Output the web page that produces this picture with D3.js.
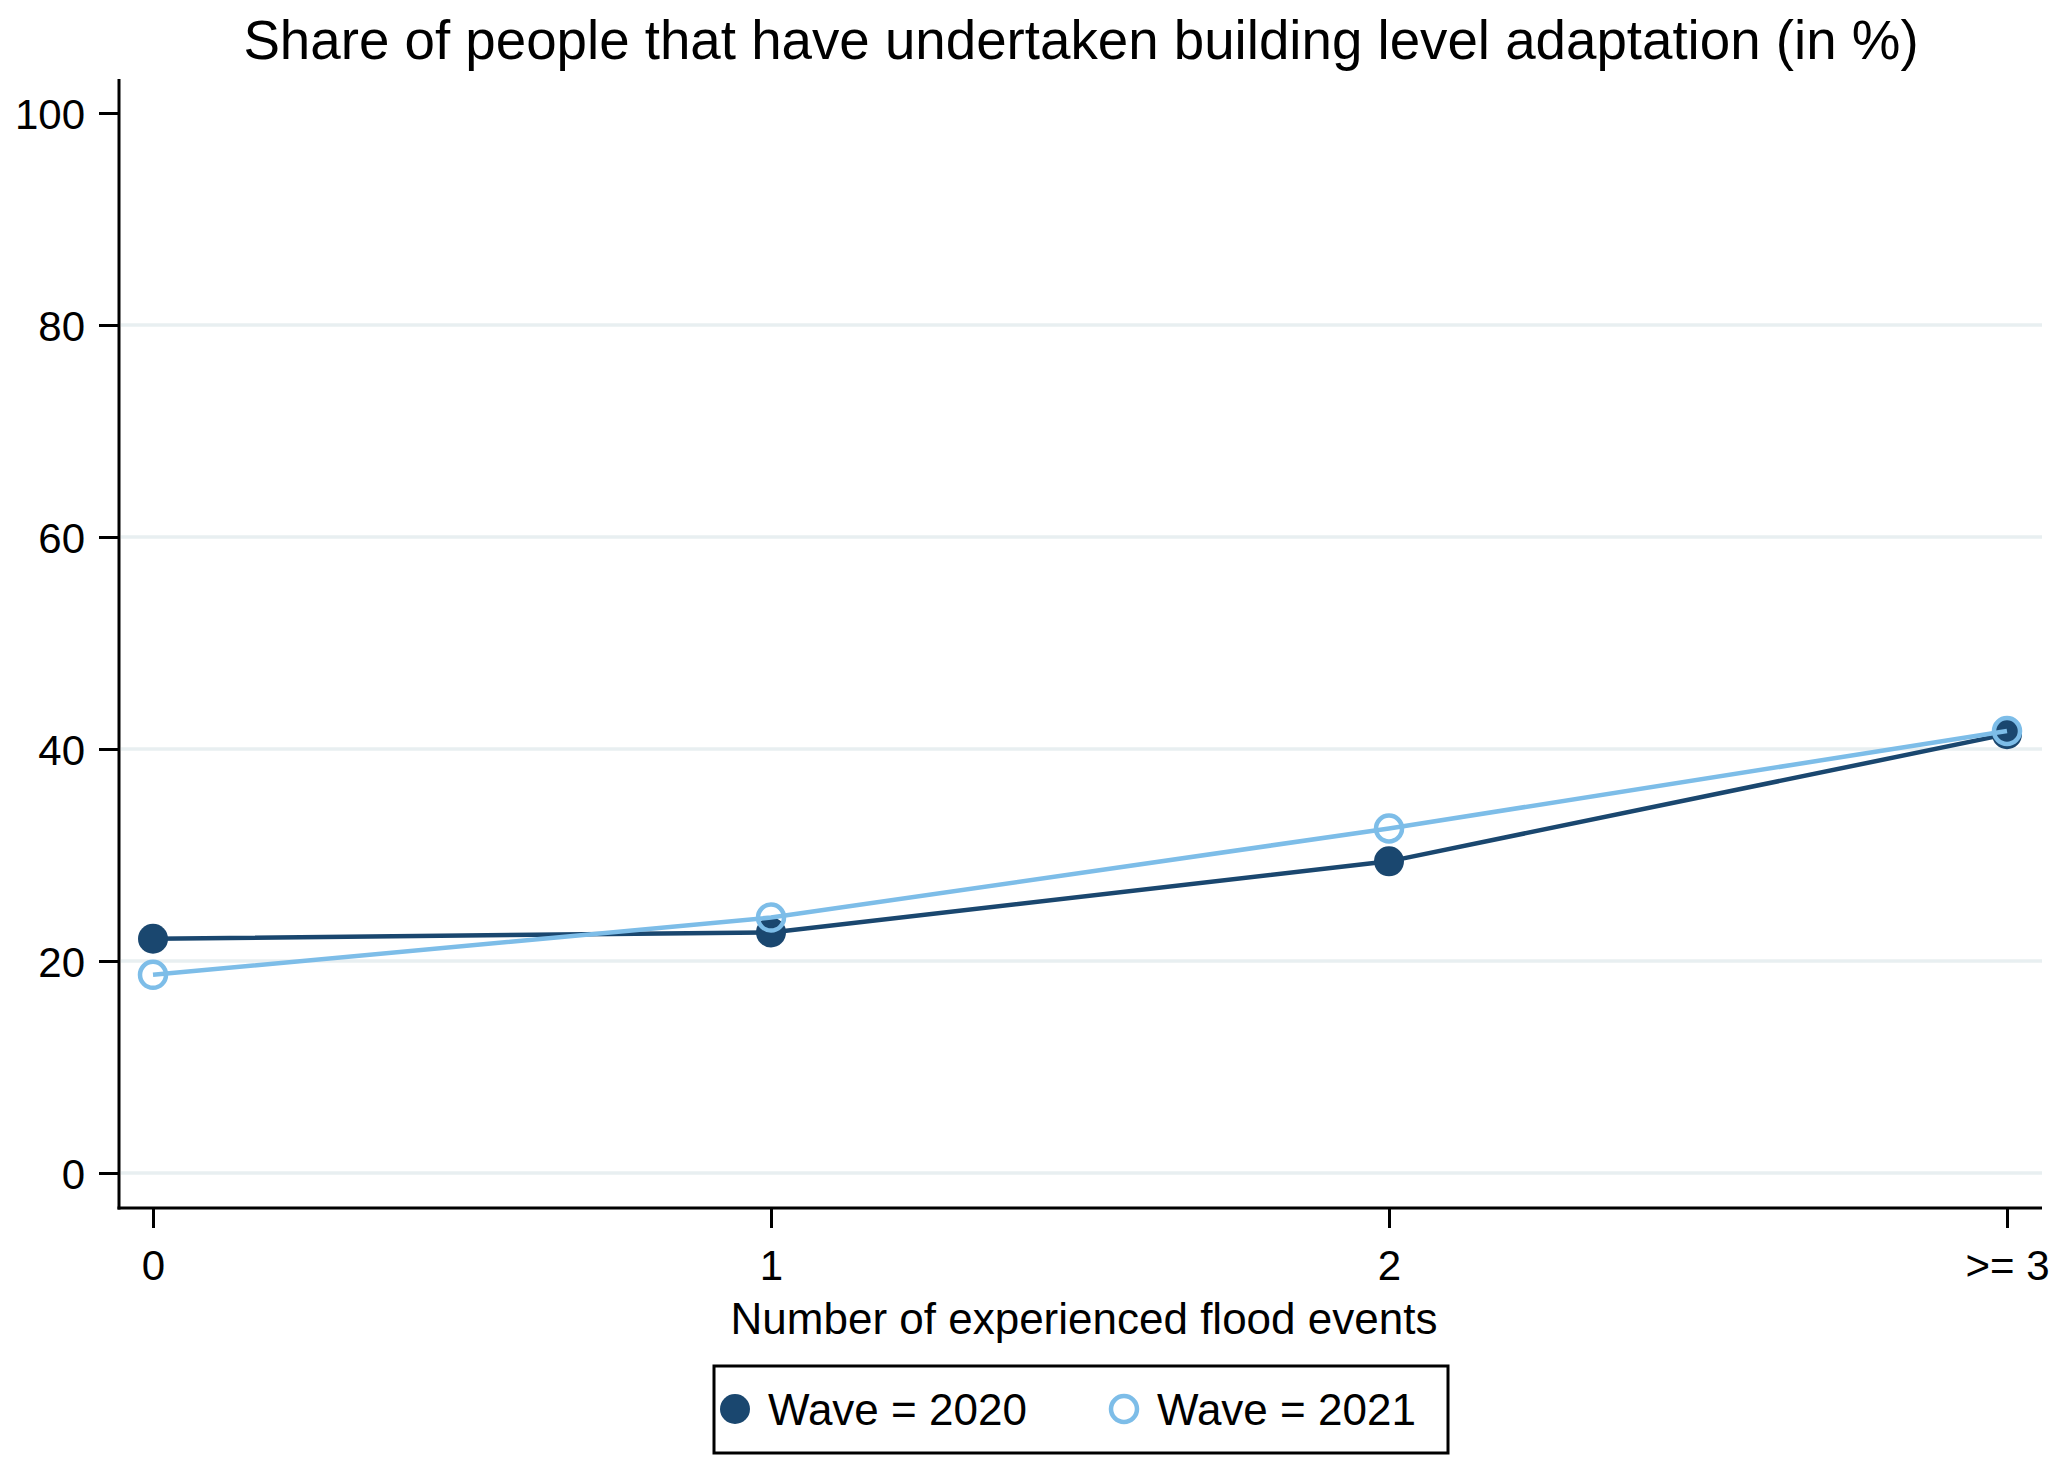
<!DOCTYPE html>
<html>
<head>
<meta charset="utf-8">
<script src="https://cdn.jsdelivr.net/npm/d3@7"></script>
<style>
    body { margin: 0; background: #fff; }
    text { font-family: "Liberation Sans", Arial, sans-serif; fill: #000; }
</style>
</head>
<body>
<div id="chart"></div>
<script>
// Data
const categories = ["0", "1", "2", ">= 3"];
const wave2020 = [22.1, 22.7, 29.4, 41.4];
const wave2021 = [18.7, 24.1, 32.5, 41.7];
const yTicks = [0, 20, 40, 60, 80, 100];
const seriesNames = ["Wave = 2020", "Wave = 2021"];

document.addEventListener('DOMContentLoaded', () => {
    const width = 2067;
    const height = 1473;

    const navy = "#1a476f";
    const light = "#7dbde8";

    const svg = d3.select("#chart")
        .append("svg")
        .attr("width", width)
        .attr("height", height);

    // Scales
    const x = d3.scalePoint()
        .domain(categories)
        .range([153, 2007]);

    const y = d3.scaleLinear()
        .domain([0, 100])
        .range([1173, 113]);

    const left = 119, right = 2042, axisTop = 79, axisBottom = 1208;

    // Title
    svg.append("text")
        .attr("x", 1081)
        .attr("y", 59)
        .attr("text-anchor", "middle")
        .style("font-size", "54.7px")
        .text("Share of people that have undertaken building level adaptation (in %)");

    // Gridlines (no line at 100)
    svg.append("g")
        .selectAll("line")
        .data(yTicks.filter(d => d < 100))
        .enter().append("line")
        .attr("x1", left + 2)
        .attr("x2", right)
        .attr("y1", d => y(d))
        .attr("y2", d => y(d))
        .attr("stroke", "#e8eff1")
        .attr("stroke-width", 3.5);

    // Y axis
    const yAxis = svg.append("g")
        .attr("transform", `translate(${left},0)`)
        .call(d3.axisLeft(y).tickValues(yTicks).tickSize(20).tickPadding(14));
    yAxis.select(".domain").remove();
    yAxis.selectAll("line").attr("stroke", "#000").attr("stroke-width", 3);
    yAxis.selectAll("text")
        .style("font-size", "42px")
        .attr("dy", "0.36em")
        .attr("font-family", null);

    svg.append("line")
        .attr("x1", left).attr("x2", left)
        .attr("y1", axisTop).attr("y2", axisBottom + 1.5)
        .attr("stroke", "#000").attr("stroke-width", 3);

    // X axis
    const xAxis = svg.append("g")
        .attr("transform", `translate(0,${axisBottom})`)
        .call(d3.axisBottom(x).tickSize(20).tickPadding(22));
    xAxis.select(".domain").remove();
    xAxis.selectAll("line").attr("stroke", "#000").attr("stroke-width", 3);
    xAxis.selectAll("text")
        .style("font-size", "42px")
        .attr("font-family", null);

    svg.append("line")
        .attr("x1", left - 1.5).attr("x2", right)
        .attr("y1", axisBottom).attr("y2", axisBottom)
        .attr("stroke", "#000").attr("stroke-width", 3);

    // Axis title
    svg.append("text")
        .attr("x", 1084)
        .attr("y", 1334)
        .attr("text-anchor", "middle")
        .style("font-size", "44px")
        .text("Number of experienced flood events");

    const line = d3.line()
        .x((d, i) => x(categories[i]))
        .y(d => y(d));

    // Wave 2020: solid navy
    svg.append("path")
        .datum(wave2020)
        .attr("d", line)
        .attr("fill", "none")
        .attr("stroke", navy)
        .attr("stroke-width", 4.5);

    svg.append("g")
        .selectAll("circle")
        .data(wave2020)
        .enter().append("circle")
        .attr("cx", (d, i) => x(categories[i]))
        .attr("cy", d => y(d))
        .attr("r", 15)
        .attr("fill", navy);

    // Wave 2021: light blue hollow
    svg.append("path")
        .datum(wave2021)
        .attr("d", line)
        .attr("fill", "none")
        .attr("stroke", light)
        .attr("stroke-width", 4.5);

    svg.append("g")
        .selectAll("circle")
        .data(wave2021)
        .enter().append("circle")
        .attr("cx", (d, i) => x(categories[i]))
        .attr("cy", d => y(d))
        .attr("r", 13)
        .attr("fill", "none")
        .attr("stroke", light)
        .attr("stroke-width", 4.5);

    // Legend
    const legend = svg.append("g");
    legend.append("rect")
        .attr("x", 714).attr("y", 1366)
        .attr("width", 734).attr("height", 87)
        .attr("fill", "#fff")
        .attr("stroke", "#000")
        .attr("stroke-width", 3);

    const legendX = [735, 1124];
    seriesNames.forEach((name, i) => {
        const c = legend.append("circle")
            .attr("cx", legendX[i])
            .attr("cy", 1409);
        if (i === 0) {
            c.attr("r", 15).attr("fill", navy);
        } else {
            c.attr("r", 13).attr("fill", "none").attr("stroke", light).attr("stroke-width", 4.5);
        }
        legend.append("text")
            .attr("x", legendX[i] + 33)
            .attr("y", 1425)
            .style("font-size", "44px")
            .text(name);
    });
});
</script>
</body>
</html>
